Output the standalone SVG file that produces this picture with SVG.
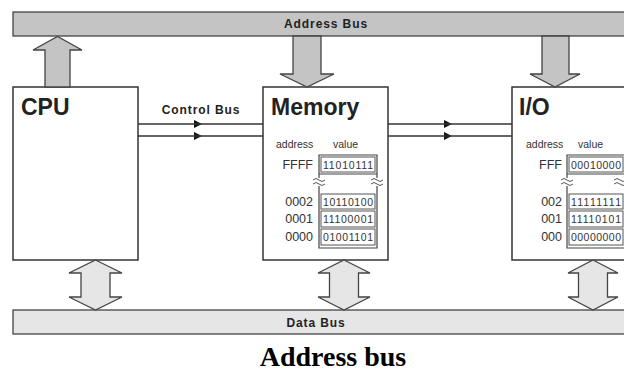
<svg xmlns="http://www.w3.org/2000/svg" width="624" height="374" viewBox="0 0 624 374">
<defs>
<style>
.bus{stroke:#444;stroke-width:1.3}
.dark{fill:#c4c4c4}
.light{fill:#e6e6e6}
.box{fill:#fff;stroke:#333;stroke-width:1.5}
.lbl{font-family:"Liberation Sans",Arial,sans-serif;font-weight:bold;fill:#222}
.busl{font-size:12px;letter-spacing:0.9px}
.title{font-size:23px}
.sm{font-family:"Liberation Sans",Arial,sans-serif;fill:#333}
.hd{font-size:10.5px}
.adr{font-size:12.5px;text-anchor:end}
.val{font-size:10.5px}
.tbl{fill:none;stroke:#444;stroke-width:1.2}
.cell{fill:#fff;stroke:#555;stroke-width:1}
.wave{fill:none;stroke:#555;stroke-width:1}
.line{stroke:#333;stroke-width:1.3}
.cap{font-family:"Liberation Serif","Times New Roman",serif;font-weight:bold;font-size:28px;fill:#000}
</style>
<marker id="ah" viewBox="0 0 8 8" refX="4" refY="4" markerWidth="8" markerHeight="8" markerUnits="userSpaceOnUse" orient="auto">
<path d="M0,0 L8,4 L0,8 Z" fill="#111"/>
</marker>
</defs>

<g id="address-bus">
<rect class="bus dark" x="13" y="12" width="620" height="24"/>
<text class="lbl busl" x="326" y="28" text-anchor="middle">Address Bus</text>
</g>

<g id="data-bus">
<rect class="bus light" x="13" y="310" width="620" height="24"/>
<text class="lbl busl" x="316" y="327" text-anchor="middle">Data Bus</text>
</g>

<g id="cpu">
<rect class="box" x="13" y="87" width="125" height="173"/>
<text class="lbl title" x="21" y="115">CPU</text>
</g>

<g id="memory">
<rect class="box" x="263" y="87" width="125" height="173"/>
<text class="lbl title" x="271" y="115">Memory</text>
<text class="sm hd" x="276" y="148">address</text>
<text class="sm hd" x="333" y="148">value</text>
<path class="tbl" d="M319,178 V155 H377 V178"/>
<path class="tbl" d="M319,186 V248 H377 V186"/>
<rect class="cell" x="321" y="157" width="54" height="15"/>
<line class="tbl" x1="319" y1="174" x2="377" y2="174"/>
<path class="wave" d="M313,180 q3,-3 6,0 t6,0 M313,184 q3,-3 6,0 t6,0"/>
<path class="wave" d="M371,180 q3,-3 6,0 t6,0 M371,184 q3,-3 6,0 t6,0"/>
<rect class="cell" x="321" y="194" width="54" height="15"/>
<rect class="cell" x="321" y="211" width="54" height="16"/>
<rect class="cell" x="321" y="229" width="54" height="16"/>
<text class="sm adr" x="313" y="169">FFFF</text>
<text class="sm adr" x="313" y="206">0002</text>
<text class="sm adr" x="313" y="223">0001</text>
<text class="sm adr" x="313" y="241">0000</text>
<text class="sm val" x="323" y="168.5" textLength="50">11010111</text>
<text class="sm val" x="323" y="205.5" textLength="50">10110100</text>
<text class="sm val" x="323" y="223" textLength="50">11100001</text>
<text class="sm val" x="323" y="241" textLength="50">01001101</text>
</g>

<g id="io">
<rect class="box" x="512" y="87" width="130" height="173"/>
<text class="lbl title" x="519" y="115">I/O</text>
<text class="sm hd" x="526" y="148">address</text>
<text class="sm hd" x="578" y="148">value</text>
<path class="tbl" d="M567,178 V155 H625 V178"/>
<path class="tbl" d="M567,186 V248 H625 V186"/>
<rect class="cell" x="569" y="157" width="54" height="15"/>
<line class="tbl" x1="567" y1="174" x2="625" y2="174"/>
<path class="wave" d="M561,180 q3,-3 6,0 t6,0 M561,184 q3,-3 6,0 t6,0"/>
<path class="wave" d="M614,180 q3,-3 6,0 t6,0 M614,184 q3,-3 6,0 t6,0"/>
<rect class="cell" x="569" y="194" width="54" height="15"/>
<rect class="cell" x="569" y="211" width="54" height="16"/>
<rect class="cell" x="569" y="229" width="54" height="16"/>
<text class="sm adr" x="562" y="169">FFF</text>
<text class="sm adr" x="562" y="206">002</text>
<text class="sm adr" x="562" y="223">001</text>
<text class="sm adr" x="562" y="241">000</text>
<text class="sm val" x="571" y="168.5" textLength="50">00010000</text>
<text class="sm val" x="571" y="205.5" textLength="50">11111111</text>
<text class="sm val" x="571" y="223" textLength="50">11110101</text>
<text class="sm val" x="571" y="241" textLength="50">00000000</text>
</g>

<g id="connectors">
<polygon class="bus dark" points="45,87 45,50 33,50 57.5,36.5 82,50 70,50 70,87"/>
<polygon class="bus dark" points="293,36 293,74 280,74 307,87 334,74 321,74 321,36"/>
<polygon class="bus dark" points="542,36 542,74 530,74 555,87 580,74 569,74 569,36"/>
<polygon class="bus light" points="95.5,260 122,273 110,273 110,297 122,297 95.5,310 69,297 81,297 81,273 69,273"/>
<polygon class="bus light" points="344,260 370,273 358.5,273 358.5,297 370,297 344,310 318,297 329.5,297 329.5,273 318,273"/>
<polygon class="bus light" points="593,260 618,273 607.5,273 607.5,297 618,297 593,310 568,297 578.5,297 578.5,273 568,273"/>
<line class="line" x1="138" y1="124" x2="198" y2="124" marker-end="url(#ah)"/>
<line class="line" x1="194" y1="124" x2="263" y2="124"/>
<line class="line" x1="138" y1="136" x2="198" y2="136" marker-end="url(#ah)"/>
<line class="line" x1="194" y1="136" x2="263" y2="136"/>
<line class="line" x1="388" y1="124" x2="448" y2="124" marker-end="url(#ah)"/>
<line class="line" x1="444" y1="124" x2="512" y2="124"/>
<line class="line" x1="388" y1="136" x2="448" y2="136" marker-end="url(#ah)"/>
<line class="line" x1="444" y1="136" x2="512" y2="136"/>
<text class="lbl busl" x="201" y="114" text-anchor="middle">Control Bus</text>
</g>

<text class="cap" x="333" y="366" text-anchor="middle">Address bus</text>
</svg>
